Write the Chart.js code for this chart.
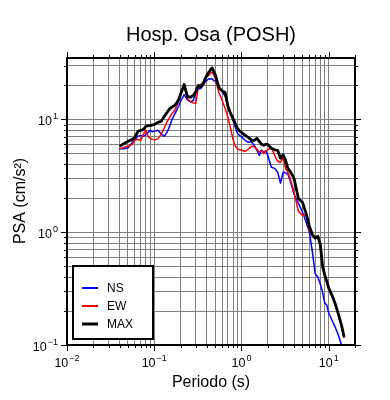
<!DOCTYPE html>
<html>
<head>
<meta charset="utf-8">
<title>Hosp. Osa (POSH)</title>
<script src="https://cdn.jsdelivr.net/npm/chart.js@4/dist/chart.umd.min.js"></script>
<style>
  html, body { margin: 0; padding: 0; background: #fff; }
  #psaChart { display: block; }
</style>
</head>
<body>
<canvas id="psaChart" width="390" height="400"></canvas>
<script>
// periods (s) and spectral values (cm/s^2)
const periods = [0.04, 0.045, 0.05, 0.055, 0.06, 0.065, 0.07, 0.075, 0.08, 0.085, 0.09, 0.095,
  0.1, 0.11, 0.12, 0.13, 0.14, 0.15, 0.16, 0.17, 0.18, 0.19, 0.2,
  0.22, 0.24, 0.26, 0.28, 0.3, 0.32, 0.34, 0.36, 0.38, 0.4, 0.42, 0.44, 0.46, 0.48, 0.5,
  0.55, 0.6, 0.65, 0.7, 0.75, 0.8, 0.85, 0.9, 0.95, 1.0,
  1.1, 1.2, 1.3, 1.4, 1.5, 1.6, 1.7, 1.8, 1.9, 2.0,
  2.2, 2.4, 2.6, 2.8, 3.0, 3.2, 3.4, 3.6, 3.8, 4.0,
  4.5, 5.0, 5.5, 6.0, 6.5, 7.0, 7.5, 8.0, 8.5, 9.0, 9.5, 10,
  11, 12, 13, 14, 15];

const nsValues = [5.48, 5.48, 5.60, 6.13, 6.65, 7.08, 7.21, 7.08, 7.30, 7.67, 8.0, 7.75,
  7.83, 8.0, 7.45, 7.08, 7.67, 8.67, 10.0, 10.96, 12.0, 13.0, 14.4,
  16.6, 14.9, 14.3, 14.7, 17.3, 18.6, 18.8, 19.8, 21.2, 22.1, 22.8, 22.8, 22.9, 22.1, 21.9,
  18.8, 17.7, 16.0, 13.3, 11.1, 9.8, 8.49, 7.52, 7.21, 7.0,
  6.52, 6.26, 6.33, 5.89, 5.32, 4.80, 5.32, 5.11, 5.26, 4.80,
  3.76, 3.68, 3.40, 2.72, 3.40, 3.36, 3.26, 2.88, 2.50, 2.17,
  1.80, 1.51, 1.23, 1.0, 0.665, 0.425, 0.40, 0.347, 0.294, 0.235, 0.226, 0.192,
  0.163, 0.141, 0.120, 0.10, 0.088];

const ewValues = [5.48, 5.65, 5.77, 5.95, 6.52, 6.65, 6.52, 7.36, 8.0, 7.08, 6.79, 6.65,
  6.59, 6.72, 7.36, 8.32, 9.5, 10.4, 11.3, 11.9, 13.0, 14.7, 16.6,
  19.6, 15.3, 14.3, 14.0, 13.9, 19.6, 20.4, 21.2, 22.6, 23.8, 24.5, 25.5, 26.3, 25.0, 23.1,
  17.3, 14.7, 12.5, 10.4, 8.32, 6.65, 5.77, 5.48, 5.37, 5.32,
  5.21, 5.43, 5.77, 5.71, 5.48, 5.11, 5.32, 4.95, 5.26, 5.37,
  5.60, 4.80, 4.25, 4.15, 4.61, 3.68, 3.40, 3.0, 2.61, 2.26,
  1.53, 1.41, 1.44, 1.04, 0.92, 0.885, 0.90, 0.767, 0.49, 0.408, 0.361, 0.313,
  0.266, 0.221, 0.18, 0.147, 0.115];

const maxValues = [5.77, 6.1, 6.38, 6.59, 6.93, 7.83, 8.0, 8.11, 8.67, 8.8, 8.8, 8.94,
  8.99, 9.4, 9.6, 10.6, 11.5, 12.4, 12.9, 13.2, 13.9, 14.9, 16.6,
  20.4, 16.0, 15.7, 16.3, 17.7, 20.0, 19.4, 20.4, 22.6, 24.5, 26.0, 27.4, 28.6, 26.6, 25.0,
  19.2, 17.9, 17.3, 13.0, 11.3, 10.2, 9.12, 8.32, 7.91, 7.67,
  7.21, 6.93, 6.52, 6.52, 6.79, 6.38, 6.01, 5.89, 6.01, 6.01,
  5.54, 5.37, 5.32, 4.52, 4.85, 4.34, 3.68, 3.47, 3.23, 3.0,
  1.98, 1.84, 1.47, 1.13, 0.95, 0.885, 0.92, 0.78, 0.50, 0.416, 0.368, 0.319,
  0.272, 0.226, 0.184, 0.150, 0.118];

const seriesNames = ["NS", "EW", "MAX"];
const seriesColors = ["#0000ff", "#ff0000", "#000000"];

// major ticks: value, base text, exponent text
const xMajor = [0.01, 0.1, 1, 10];
const xMajorExp = ["\u22122", "\u22121", "0", "1"];
const yMajor = [0.1, 1, 10];
const yMajorExp = ["\u22121", "0", "1"];

const X_MIN = 0.01, X_MAX = 20;
const Y_MIN = 0.1, Y_MAX = 35;

// 1..9 x each decade, for grid lines and frame ticks
function decadeSteps(majors, lo, hi) {
  const out = [];
  majors.forEach(m => {
    for (let k = 1; k <= 9; k++) {
      const v = +(m * k).toPrecision(6);
      if (v >= lo - 1e-12 && v <= hi + 1e-9) out.push(v);
    }
  });
  return out;
}
const xGrid = decadeSteps(xMajor, X_MIN, X_MAX);
const yGrid = decadeSteps(yMajor, Y_MIN, Y_MAX);

function majorIndex(v, majors) {
  return majors.findIndex(m => Math.abs(v - m) / m < 1e-6);
}

const FONT = "'Liberation Sans', Arial, Helvetica, sans-serif";
Chart.defaults.font.family = FONT;
Chart.defaults.color = "#000";

// "10" with a raised exponent; align = "center" or "right"
function drawPower(ctx, exp, x, baseline, align) {
  ctx.font = "12.5px " + FONT;
  const wb = ctx.measureText("10").width;
  ctx.font = "9px " + FONT;
  const we = ctx.measureText(exp).width + 1;
  const start = align === "center" ? x - (wb + we) / 2 : x - wb - we;
  ctx.textAlign = "left";
  ctx.textBaseline = "alphabetic";
  ctx.font = "12.5px " + FONT;
  ctx.fillText("10", start, baseline);
  ctx.font = "9px " + FONT;
  ctx.fillText(exp, start + wb + 1, baseline - 6);
}

const frameAndText = {
  id: "frameAndText",
  afterDraw(chart) {
    const { ctx, chartArea: a, scales } = chart;
    const x = scales.x, y = scales.y;
    ctx.save();

    // ticks outside the frame on all four sides
    ctx.strokeStyle = "#000";
    ctx.lineWidth = 1;
    ctx.beginPath();
    xGrid.forEach(v => {
      const px = Math.round(x.getPixelForValue(v)) + 0.5;
      const len = majorIndex(v, xMajor) >= 0 ? 6 : 3;
      ctx.moveTo(px, a.bottom); ctx.lineTo(px, a.bottom + len);
      ctx.moveTo(px, a.top); ctx.lineTo(px, a.top - len);
    });
    yGrid.forEach(v => {
      const py = Math.round(y.getPixelForValue(v)) + 0.5;
      const len = majorIndex(v, yMajor) >= 0 ? 6 : 3;
      ctx.moveTo(a.left, py); ctx.lineTo(a.left - len, py);
      ctx.moveTo(a.right, py); ctx.lineTo(a.right + len, py);
    });
    ctx.stroke();

    ctx.lineWidth = 2;
    ctx.strokeRect(a.left, a.top, a.right - a.left, a.bottom - a.top);

    // tick labels
    ctx.fillStyle = "#000";
    xMajor.forEach((v, i) => drawPower(ctx, xMajorExp[i], x.getPixelForValue(v), a.bottom + 22, "center"));
    yMajor.forEach((v, i) => drawPower(ctx, yMajorExp[i], a.left - 9, y.getPixelForValue(v) + 6, "right"));

    // titles
    const cx = (a.left + a.right) / 2;
    ctx.textAlign = "center";
    ctx.textBaseline = "alphabetic";
    ctx.font = "20px " + FONT;
    ctx.fillText("Hosp. Osa (POSH)", cx, 41);
    ctx.font = "16px " + FONT;
    ctx.fillText("Periodo (s)", cx, 387);
    ctx.save();
    ctx.translate(25, 201);
    ctx.rotate(-Math.PI / 2);
    ctx.fillText("PSA (cm/s\u00B2)", 0, 0);
    ctx.restore();

    // legend box
    const bx = 73, by = 266, bw = 80, bh = 73;
    ctx.fillStyle = "#fff";
    ctx.fillRect(bx, by, bw, bh);
    ctx.lineWidth = 2;
    ctx.strokeStyle = "#000";
    ctx.strokeRect(bx, by, bw, bh);
    const rows = [288, 306, 324];
    ctx.font = "12px " + FONT;
    ctx.textAlign = "left";
    ctx.textBaseline = "middle";
    seriesNames.forEach((name, i) => {
      ctx.strokeStyle = seriesColors[i];
      ctx.lineWidth = i === 2 ? 3 : 2;
      ctx.beginPath();
      ctx.moveTo(82, rows[i]);
      ctx.lineTo(98, rows[i]);
      ctx.stroke();
      ctx.fillStyle = "#000";
      ctx.fillText(name, 107, rows[i] + 1);
    });
    ctx.restore();
  }
};

function toPoints(values) {
  return periods.map((p, i) => ({ x: p, y: values[i] }));
}

const ctx = document.getElementById("psaChart").getContext("2d");

new Chart(ctx, {
  type: "line",
  data: {
    datasets: [
      { label: seriesNames[0], data: toPoints(nsValues), borderColor: seriesColors[0], borderWidth: 1.5, order: 2 },
      { label: seriesNames[1], data: toPoints(ewValues), borderColor: seriesColors[1], borderWidth: 1.5, order: 1 },
      { label: seriesNames[2], data: toPoints(maxValues), borderColor: seriesColors[2], borderWidth: 2.8, order: 0 },
    ],
  },
  options: {
    responsive: false,
    animation: false,
    devicePixelRatio: 1,
    elements: {
      point: { radius: 0 },
      line: { tension: 0, fill: false, borderJoinStyle: "round" },
    },
    layout: { padding: { top: 58, right: 35, left: 0, bottom: 0 } },
    plugins: {
      legend: { display: false },
      title: { display: false },
      tooltip: { enabled: false },
    },
    scales: {
      x: {
        type: "logarithmic",
        min: X_MIN,
        max: X_MAX,
        afterBuildTicks: scale => { scale.ticks = xGrid.map(v => ({ value: v })); },
        afterFit: scale => { scale.height = 55; },
        grid: { color: "#808080", lineWidth: 1, drawTicks: false },
        border: { display: false },
        ticks: { display: false, autoSkip: false, maxRotation: 0 },
      },
      y: {
        type: "logarithmic",
        min: Y_MIN,
        max: Y_MAX,
        afterBuildTicks: scale => { scale.ticks = yGrid.map(v => ({ value: v })); },
        afterFit: scale => { scale.width = 67; },
        grid: { color: "#808080", lineWidth: 1, drawTicks: false },
        border: { display: false },
        ticks: { display: false, autoSkip: false },
      },
    },
  },
  plugins: [frameAndText],
});
</script>
</body>
</html>
